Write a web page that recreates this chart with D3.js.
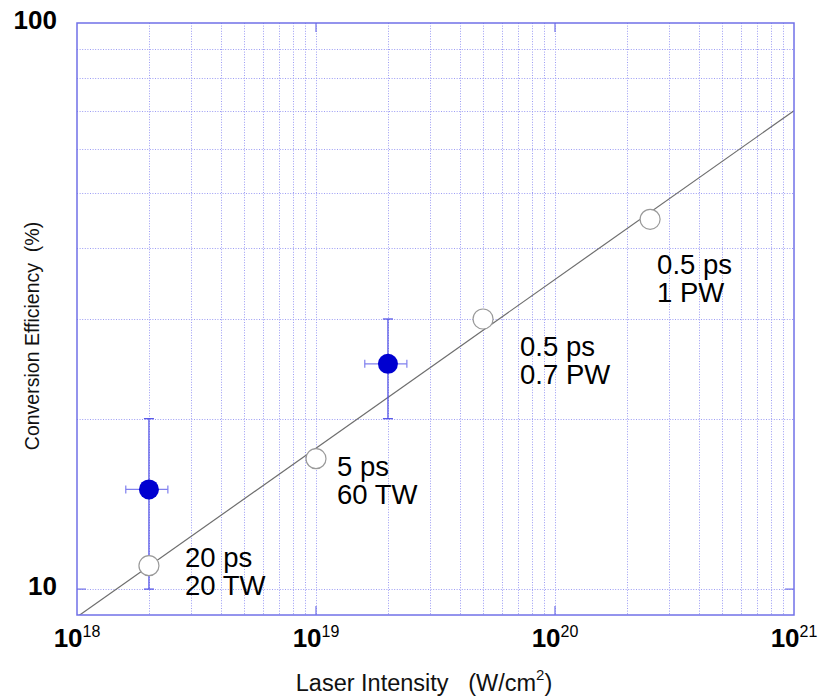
<!DOCTYPE html>
<html>
<head>
<meta charset="utf-8">
<script src="https://cdn.jsdelivr.net/npm/d3@7"></script>
<style>
  html, body { margin: 0; padding: 0; background: #fff; }
  svg { display: block; font-family: "Liberation Sans", Arial, Helvetica, sans-serif; }
</style>
</head>
<body>
<svg id="chart" width="820" height="700"></svg>
<script>
// Laser-to-particle conversion efficiency versus laser intensity

// Open circles: measured shots on the scaling curve, with pulse annotations
const openIntensity = [2e18, 1e19, 5e19, 2.5e20];
const openEfficiency = [11, 17, 30, 45];
const openLabels = [["20 ps", "20 TW"], ["5 ps", "60 TW"], ["0.5 ps", "0.7 PW"], ["0.5 ps", "1 PW"]];

// Filled circles: points with error bars
const filledIntensity = [2e18, 2e19];
const filledEfficiency = [15, 25];
const filledIntensityLo = [1.6e18, 1.6e19];
const filledIntensityHi = [2.4e18, 2.4e19];
const filledEfficiencyLo = [10, 20];
const filledEfficiencyHi = [20, 30];

// Power-law fit endpoints
const fitIntensity = [1e18, 1e21];
const fitEfficiency = [8.93, 70];

// Axis ticks
const xMajorTicks = [1e18, 1e19, 1e20, 1e21];
const xExponents = ["18", "19", "20", "21"];
const yMajorTicks = [10, 100];
const yTickLabels = ["10", "100"];

const svg = d3.select("#chart");
const plotLeft = 77, plotRight = 794, plotTop = 23, plotBottom = 615;

const x = d3.scaleLog().domain([1e18, 1e21]).range([plotLeft, plotRight]);
const y = d3.scaleLog().domain([9, 100]).range([plotBottom, plotTop]);

const gridColor = "#9c9cf4";
const frameColor = "#7070e8";

// Minor grid (dotted)
const xGrid = [];
for (let e = 18; e < 21; e++) for (let m = 2; m <= 9; m++) xGrid.push(m * Math.pow(10, e));
xGrid.push(1e19, 1e20);
const yGrid = [10, 20, 30, 40, 50, 60, 70, 80, 90];

const grid = svg.append("g").attr("stroke", gridColor).attr("stroke-width", 1)
  .attr("stroke-dasharray", "1,1.6").attr("fill", "none");
grid.selectAll("line.vx").data(xGrid).join("line")
  .attr("x1", d => Math.round(x(d)) + 0.5).attr("x2", d => Math.round(x(d)) + 0.5)
  .attr("y1", plotTop).attr("y2", plotBottom);
grid.selectAll("line.hy").data(yGrid).join("line")
  .attr("x1", plotLeft).attr("x2", plotRight)
  .attr("y1", d => Math.round(y(d)) + 0.5).attr("y2", d => Math.round(y(d)) + 0.5);

// Major tick marks on the frame
const ticks = svg.append("g").attr("stroke", frameColor).attr("stroke-width", 1.2);
[1e19, 1e20].forEach(v => {
  ticks.append("line").attr("x1", x(v)).attr("x2", x(v)).attr("y1", plotBottom).attr("y2", plotBottom - 9);
  ticks.append("line").attr("x1", x(v)).attr("x2", x(v)).attr("y1", plotTop).attr("y2", plotTop + 9);
});
[10].forEach(v => {
  ticks.append("line").attr("x1", plotLeft).attr("x2", plotLeft + 9).attr("y1", y(v)).attr("y2", y(v));
  ticks.append("line").attr("x1", plotRight).attr("x2", plotRight - 9).attr("y1", y(v)).attr("y2", y(v));
});

// Clip region for the fit line
svg.append("clipPath").attr("id", "plot-clip")
  .append("rect").attr("x", plotLeft).attr("y", plotTop)
  .attr("width", plotRight - plotLeft).attr("height", plotBottom - plotTop);

const fitLine = d3.line().x(d => x(d[0])).y(d => y(d[1]));
svg.append("path")
  .datum(d3.zip(fitIntensity, fitEfficiency))
  .attr("d", fitLine)
  .attr("clip-path", "url(#plot-clip)")
  .attr("fill", "none").attr("stroke", "#6e6e6e").attr("stroke-width", 1.2);

// Error bars for the filled points
const filled = filledIntensity.map((v, i) => ({
  x: v, y: filledEfficiency[i],
  xlo: filledIntensityLo[i], xhi: filledIntensityHi[i],
  ylo: filledEfficiencyLo[i], yhi: filledEfficiencyHi[i]
}));
const eb = svg.append("g").attr("fill", "none");
filled.forEach(p => {
  const g = eb.append("g");
  g.append("line").attr("x1", x(p.x)).attr("x2", x(p.x)).attr("y1", y(p.ylo)).attr("y2", y(p.yhi))
    .attr("stroke", "#4a4ae6").attr("stroke-width", 1.2);
  [p.ylo, p.yhi].forEach(v => g.append("line")
    .attr("x1", x(p.x) - 5).attr("x2", x(p.x) + 5).attr("y1", y(v)).attr("y2", y(v))
    .attr("stroke", "#4a4ae6").attr("stroke-width", 1.2));
  g.append("line").attr("x1", x(p.xlo)).attr("x2", x(p.xhi)).attr("y1", y(p.y)).attr("y2", y(p.y))
    .attr("stroke", "#8080ee").attr("stroke-width", 1.2);
  [p.xlo, p.xhi].forEach(v => g.append("line")
    .attr("x1", x(v)).attr("x2", x(v)).attr("y1", y(p.y) - 4).attr("y2", y(p.y) + 4)
    .attr("stroke", "#8080ee").attr("stroke-width", 1.2));
});

// Open circles
const open = openIntensity.map((v, i) => ({ x: v, y: openEfficiency[i], label: openLabels[i] }));
svg.append("g").selectAll("circle").data(open).join("circle")
  .attr("cx", d => x(d.x)).attr("cy", d => y(d.y)).attr("r", 10)
  .attr("fill", "#fff").attr("stroke", "#9a9a9a").attr("stroke-width", 1.2);

// Filled circles
svg.append("g").selectAll("circle").data(filled).join("circle")
  .attr("cx", d => x(d.x)).attr("cy", d => y(d.y)).attr("r", 10)
  .attr("fill", "#0000d0");

// Frame
svg.append("rect").attr("x", plotLeft).attr("y", plotTop)
  .attr("width", plotRight - plotLeft).attr("height", plotBottom - plotTop)
  .attr("fill", "none").attr("stroke", frameColor).attr("stroke-width", 1.5);

// Annotations beside the open circles
const labelOffsets = [[36, 1], [21, 17], [37, 37], [7, 55]];
const ann = svg.append("g").attr("font-size", 27.5).attr("fill", "#000");
open.forEach((d, i) => {
  const t = ann.append("text")
    .attr("x", x(d.x) + labelOffsets[i][0]).attr("y", y(d.y) + labelOffsets[i][1]);
  d.label.forEach((line, j) => t.append("tspan")
    .attr("x", x(d.x) + labelOffsets[i][0]).attr("dy", j === 0 ? 0 : 28).text(line));
});

// X tick labels: 10^n
const xl = svg.append("g").attr("font-weight", "bold").attr("fill", "#000");
xMajorTicks.forEach((v, i) => {
  const t = xl.append("text").attr("x", x(v)).attr("y", 647)
    .attr("text-anchor", "middle").attr("font-size", 26);
  t.append("tspan").text("10");
  t.append("tspan").attr("font-size", 16).attr("font-weight", "normal").attr("dy", -10).text(xExponents[i]);
});

// Y tick labels
yMajorTicks.forEach((v, i) => {
  xl.append("text").attr("x", 57).attr("y", y(v) + 6)
    .attr("text-anchor", "end").attr("font-size", 26).text(yTickLabels[i]);
});

// Axis titles
const xt = svg.append("text").attr("x", 424).attr("y", 691).attr("text-anchor", "middle")
  .attr("font-size", 23.5).attr("fill", "#111");
xt.append("tspan").text("Laser Intensity\u00a0\u00a0\u00a0(W/cm");
xt.append("tspan").attr("font-size", 15).attr("dy", -11).text("2");
xt.append("tspan").attr("dy", 11).text(")");

svg.append("text")
  .attr("transform", "translate(39," + 336 + ") rotate(-90)")
  .attr("text-anchor", "middle").attr("font-size", 19.5).attr("fill", "#111")
  .text("Conversion Efficiency\u00a0\u00a0(%)");
</script>
</body>
</html>
